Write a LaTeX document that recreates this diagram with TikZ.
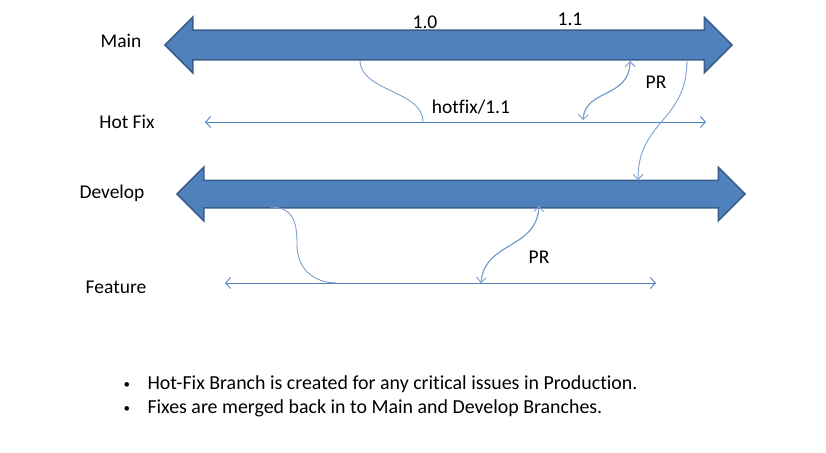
\documentclass[tikz,border=0pt]{standalone}
\usepackage{fontspec}
\setmainfont{Carlito}[Ligatures={NoCommon}]
\usepackage{tikz}
\usetikzlibrary{shapes.arrows,arrows.meta}
\definecolor{branchblue}{HTML}{4F81BD}
\definecolor{branchedge}{HTML}{385D8A}
\definecolor{linkblue}{HTML}{7BA0D0}
\newcommand{\smallbullet}{\makebox[24pt][l]{\raisebox{0.5pt}{\fontsize{13}{13}\selectfont\textbullet}}}

\begin{document}
\begin{tikzpicture}[x=1pt,y=-1pt,
	bigbranch/.style={shape=double arrow, draw=branchedge, fill=branchblue, line width=1.5pt,
		double arrow head extend=13pt, inner xsep=0pt, inner ysep=14pt},
	thinbranch/.style={draw=branchblue, line width=0.9pt,
		{Straight Barb[length=5pt,width=11pt]}-{Straight Barb[length=5pt,width=11pt]}},
	link/.style={draw=linkblue, line width=0.9pt},
	tip/.style={-{Straight Barb[length=5pt,width=10pt]}},
	label/.style={anchor=base, font=\fontsize{19.5}{23}\selectfont},
	note/.style={anchor=base west, font=\fontsize{19.9}{24}\selectfont}]
	\useasboundingbox (0,0) rectangle (826,452);

	\node[bigbranch, minimum height=567pt] (main) at (448.5,45) {};
	\node[bigbranch, minimum height=568pt, inner ysep=13pt] (develop) at (461,194) {};

	\coordinate (hf-l) at (205,122);
	\coordinate (hf-r) at (706,122);
	\coordinate (ft-l) at (225,283);
	\coordinate (ft-r) at (656,283);
	\draw[thinbranch] (hf-l) -- (hf-r);
	\draw[thinbranch] (ft-l) -- (ft-r);

	\node[label] (l-main) at (121,48) {Main};
	\node[label] (l-hotfix) at (127,128) {Hot Fix};
	\node[label] (l-develop) at (112,198) {Develop};
	\node[label] (l-feature) at (116,293) {Feature};
	\node[label] (v10) at (425,29) {1.0};
	\node[label] (v11) at (570,26) {1.1};
	\node[label] (hf-name) at (471,113) {hotfix/1.1};
	\node[label] (pr-main) at (656,88) {PR};
	\node[label] (pr-dev) at (539,263) {PR};

	\coordinate (m-10) at (360,60);
	\coordinate (h-10) at (423,122);
	\coordinate (h-pr) at (583,120);
	\coordinate (m-pr) at (630,61);
	\coordinate (m-11) at (687,60);
	\coordinate (d-hf) at (638,180);
	\coordinate (d-ft) at (270,207);
	\coordinate (ft-mid) at (297,245);
	\coordinate (f-ft) at (337,283);
	\coordinate (f-pr) at (481,283);
	\coordinate (d-pr) at (539,206);

	\draw[link] (m-10) .. controls +(0,32) and +(0,-32) .. (h-10);
	\draw[link,tip] (m-pr) .. controls +(0,38) and +(2,-32) .. (h-pr);
	\draw[link,tip] (h-pr) .. controls +(2,-32) and +(0,38) .. (m-pr);
	\draw[link,tip] (m-11) .. controls +(0,62) and +(0,-60) .. (d-hf);
	\draw[link] (d-ft) .. controls +(25,0) and +(0,-20) .. (ft-mid) .. controls +(0,25) and +(-22,0) .. (f-ft);
	\draw[link,tip] (d-pr) .. controls +(-2,44) and +(3,-42) .. (f-pr);
	\draw[link,tip] (f-pr) .. controls +(3,-42) and +(-2,44) .. (d-pr);

	\node[note] (b1) at (120,389) {\smallbullet Hot-Fix Branch is created for any critical issues in Production.};
	\node[note] (b2) at (120,413) {\smallbullet Fixes are merged back in to Main and Develop Branches.};
\end{tikzpicture}
\end{document}
